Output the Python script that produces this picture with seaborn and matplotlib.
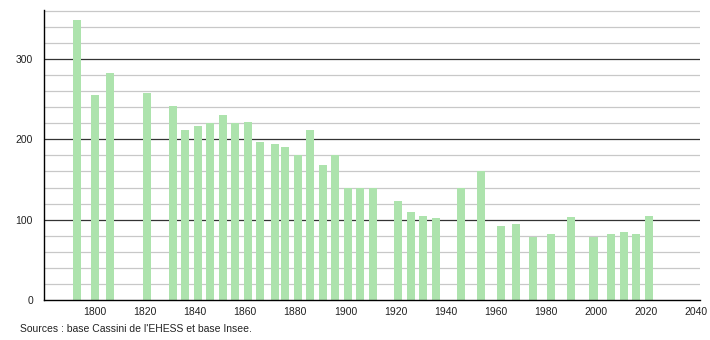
import matplotlib
matplotlib.use("Agg")
import matplotlib.pyplot as plt
import seaborn as sns
import pandas as pd

years = [1793, 1800, 1806, 1821, 1831, 1836, 1841, 1846, 1851, 1856, 1861, 1866,
         1872, 1876, 1881, 1886, 1891, 1896, 1901, 1906, 1911, 1921, 1926, 1931,
         1936, 1946, 1954, 1962, 1968, 1975, 1982, 1990, 1999, 2006, 2011, 2016, 2021]
population = [349, 255, 282, 258, 242, 212, 217, 220, 230, 220, 222, 197,
              194, 191, 180, 211, 168, 180, 139, 139, 139, 123, 110, 105,
              102, 139, 160, 92, 95, 79, 82, 103, 78, 82, 85, 82, 105]
xticks = [1800, 1820, 1840, 1860, 1880, 1900, 1920, 1940, 1960, 1980, 2000, 2020, 2040]
yticks = [0, 100, 200, 300]
source = "Sources : base Cassini de l'EHESS et base Insee."

df = pd.DataFrame({"year": years, "pop": population})

sns.set_style("white")
plt.rcParams['font.family'] = ['Liberation Sans', 'DejaVu Sans']

fig = plt.figure(figsize=(7.1, 3.4), dpi=100)
ax = fig.add_axes([44 / 710, 1 - 300 / 340, (700 - 44) / 710, (300 - 10) / 340])

# gridlines
for v in range(20, 361, 20):
    if v % 100 == 0:
        ax.axhline(v, color="#333333", lw=0.9, zorder=1)
    else:
        ax.axhline(v, color="#c8c8c8", lw=0.9, zorder=1)

sns.barplot(data=df, x="year", y="pop", native_scale=True, color="#ade3ad",
            saturation=1, width=0.8, ax=ax, zorder=2, edgecolor="none")

ax.set_xlim(1779.7, 2041.5)
ax.set_ylim(0, 361)
ax.set_xticks(xticks)
ax.set_xticklabels([str(t) for t in xticks], fontsize=7.5, color="#222222")
ax.set_yticks(yticks)
ax.set_yticklabels([str(t) for t in yticks], fontsize=7.5, color="#222222")
ax.set_yticks(list(range(0, 361, 20)), minor=True)
ax.tick_params(axis="y", which="major", length=5, width=0.9, color="#000000", pad=3)
ax.tick_params(axis="y", which="minor", length=3, width=0.7, color="#000000")
ax.tick_params(axis="x", which="major", length=0, pad=5)
ax.set_xlabel("")
ax.set_ylabel("")
for s in ["top", "right"]:
    ax.spines[s].set_visible(False)
ax.spines["left"].set_color("#000000")
ax.spines["bottom"].set_color("#000000")
ax.spines["left"].set_linewidth(1.0)
ax.spines["bottom"].set_linewidth(1.0)

fig.text(20 / 710, 1 - 329 / 340, source, fontsize=7.5, color="#222222", va="center", ha="left")

fig.savefig("out.png", dpi=100, facecolor="white")
